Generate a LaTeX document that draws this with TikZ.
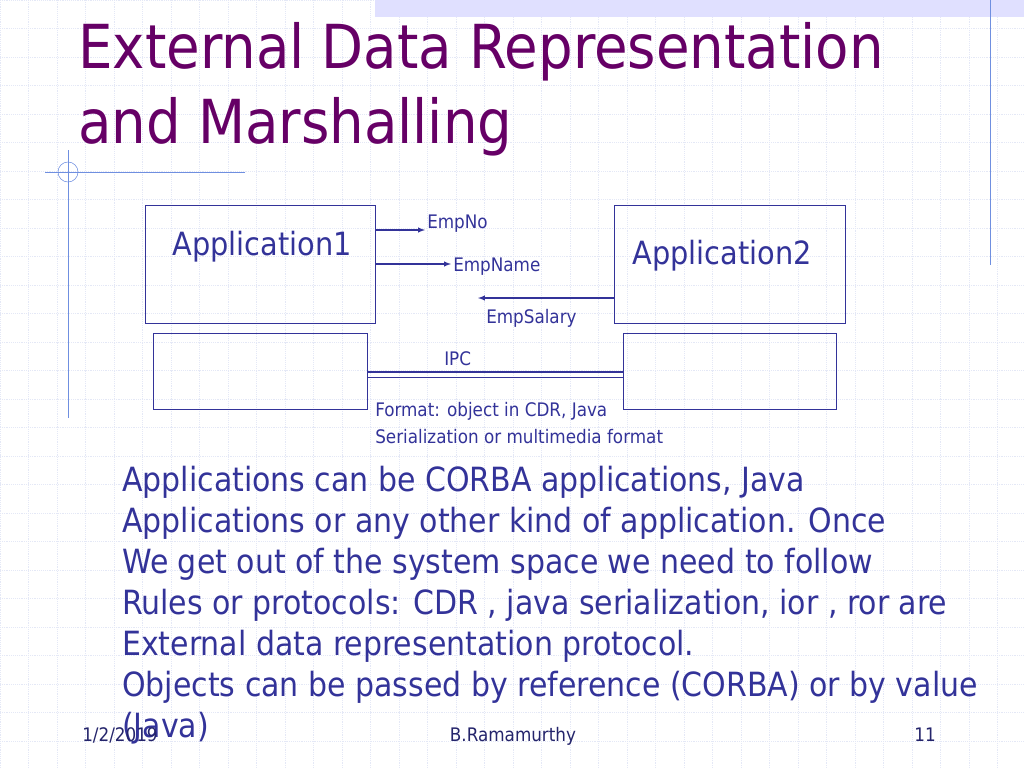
\documentclass[tikz,border=0pt]{standalone}
\usepackage{fontspec}
\setmainfont{DejaVu Sans Condensed}
\usetikzlibrary{positioning}
\definecolor{titlec}{HTML}{660066}
\definecolor{bodyc}{HTML}{333399}
\definecolor{gridc}{HTML}{E4E8F6}
\definecolor{rulec}{HTML}{6F8FE0}
\tikzset{
  appbox/.style={draw=bodyc,minimum width=#1,inner sep=0pt},
  small/.style={text=bodyc,font=\fontsize{14}{16}\selectfont,inner sep=0pt},
  body/.style={text=bodyc,font=\fontsize{25}{30.75}\selectfont,inner sep=0pt,align=left},
  msg/.style={draw=bodyc,thick,-latex}
}
\begin{document}
\begin{tikzpicture}[x=0.75pt,y=-0.75pt]
\useasboundingbox (0,0) rectangle (1024,768);
% grid background
\foreach \gx in {0,28.5,...,1024} \draw[gridc,densely dotted] (\gx,0) -- (\gx,768);
\foreach \gy in {0,28.5,...,768} \draw[gridc,densely dotted] (0,\gy) -- (1024,\gy);
\fill[blue!12] (375,0) rectangle (1024,17);
\draw[rulec] (990,0) -- (990,265);
\draw[rulec] (45,172) -- (245,172);
\draw[rulec] (68,150) -- (68,418);
\draw[rulec] (68,172) circle (10);
% title
\node[anchor=base west,text=titlec,font=\fontsize{45.5}{55}\selectfont,inner sep=0pt] (title) at (78,68)
  {External Data Representation};
\node[anchor=base west,text=titlec,font=\fontsize{45.5}{55}\selectfont,inner sep=0pt] (title2) at (78,143)
  {and Marshalling};
% boxes
\node[appbox=172.5pt,minimum height=88.5pt] (app1) at (260,264) {};
\node[appbox=173.25pt,minimum height=88.5pt] (app2) at (729.5,264) {};
\node[appbox=160.5pt,minimum height=57pt] (low1) at (260,371) {};
\node[appbox=159.75pt,minimum height=57pt] (low2) at (729.5,371) {};
\node[body,font=\fontsize{24}{28}\selectfont,anchor=base] (a1) at (262,255) {Application1};
\node[body,font=\fontsize{24}{28}\selectfont,anchor=base] (a2) at (722,264) {Application2};
% messages
\coordinate (no) at (425,230);
\coordinate (name) at (451,264);
\coordinate (sal) at (478,298);
\draw[msg] (app1.east |- no) -- (no);
\draw[msg] (app1.east |- name) -- (name);
\draw[msg] (app2.west |- sal) -- (sal);
\node[small,anchor=base west] (lno) at (427,228) {EmpNo};
\node[small,anchor=base west] (lname) at (453,271) {EmpName};
\node[small,anchor=base west] (lsal) at (486,323) {EmpSalary};
% ipc
\draw[bodyc,line width=1.5pt] (low1.east |- 0,372) -- (low2.west |- 0,372);
\draw[bodyc] (low1.east |- 0,377) -- (low2.west |- 0,377);
\node[small,anchor=base west] (ipc) at (444,365) {IPC};
\node[small,anchor=base west] (fmt) at (375,416) {Format: object in CDR, Java};
\node[small,anchor=base west] (fmt2) at (375,443) {Serialization or multimedia format};
% body text
\node[body,anchor=north west] (txt) at (122,466)
  {Applications can be CORBA applications, Java\\
   Applications or any other kind of application. Once\\
   We get out of the system space we need to follow\\
   Rules or protocols: CDR , java serialization, ior , ror are\\
   External data representation protocol.\\
   Objects can be passed by reference (CORBA) or by value\\
   (Java)};
% footer
\node[small,text=bodyc!70!black,anchor=base] (date) at (120,741) {1/2/2019};
\node[small,text=bodyc!70!black,anchor=base] (auth) at (513,741) {B.Ramamurthy};
\node[small,text=bodyc!70!black,anchor=base] (page) at (925,741) {11};
\end{tikzpicture}
\end{document}
